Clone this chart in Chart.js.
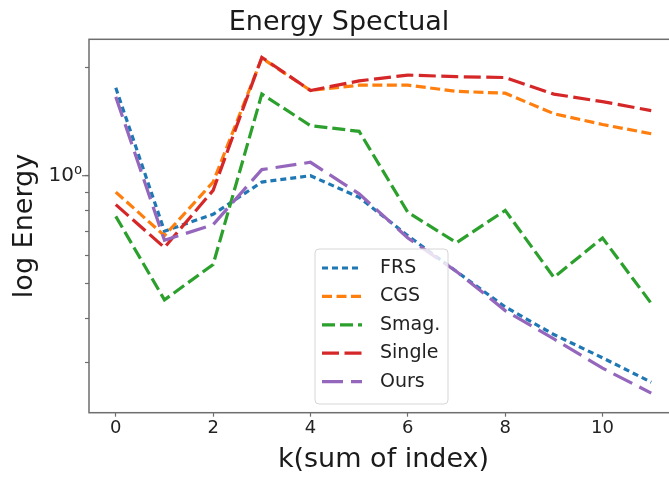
<!DOCTYPE html>
<html>
<head>
<meta charset="utf-8">
<script src="https://cdn.jsdelivr.net/npm/chart.js@4"></script>
<style>
  html, body { margin: 0; padding: 0; background: #fff; overflow: hidden; }
  #wrap { width: 669px; height: 477px; overflow: hidden; }
</style>
</head>
<body>
<div id="wrap"><canvas id="grafico" width="700" height="477"></canvas></div>
<script>
// valores (escala log)
const ks = [0, 1, 2, 3, 4, 5, 6, 7, 8, 9, 10, 11];
const frs    = [1.76, 0.70, 0.78, 0.96, 1.00, 0.87, 0.68, 0.54, 0.43, 0.36, 0.31, 0.265];
const cgs    = [0.90, 0.68, 0.96, 2.13, 1.73, 1.79, 1.79, 1.72, 1.70, 1.49, 1.39, 1.31];
const smag   = [0.77, 0.45, 0.565, 1.69, 1.38, 1.33, 0.79, 0.65, 0.80, 0.52, 0.67, 0.44];
const single = [0.83, 0.63, 0.91, 2.14, 1.73, 1.84, 1.91, 1.89, 1.88, 1.69, 1.61, 1.52];
const ours   = [1.66, 0.66, 0.73, 1.04, 1.09, 0.89, 0.67, 0.54, 0.42, 0.35, 0.29, 0.247];

const nomes = ['FRS', 'CGS', 'Smag.', 'Single', 'Ours'];
const xTicks = [0, 2, 4, 6, 8, 10];
const yTicks = [0.3, 0.4, 0.5, 0.6, 0.7, 0.8, 0.9, 1, 2];

const FONTE = "'DejaVu Sans', sans-serif";

const series = [
  { dados: frs,    cor: '#1f77b4', dash: [6, 4] },
  { dados: cgs,    cor: '#ff7f0e', dash: [10, 4.5] },
  { dados: smag,   cor: '#2ca02c', dash: [13, 5] },
  { dados: single, cor: '#d62728', dash: [17, 5.5] },
  { dados: ours,   cor: '#9467bd', dash: [21, 8] },
];

const datasets = series.map((s, i) => ({
  label: nomes[i],
  data: ks.map((k, j) => ({ x: k, y: s.dados[j] })),
  borderColor: s.cor,
  backgroundColor: s.cor,
  borderDash: s.dash,
  borderWidth: 3.2,
  pointRadius: 0,
  tension: 0,
  fill: false,
  order: series.length - i   // o último fica por cima, como no matplotlib
}));

// moldura do gráfico + tick maior em 10^0
const moldura = {
  id: 'moldura',
  afterDraw(chart) {
    const { ctx, chartArea: a } = chart;
    ctx.save();
    ctx.strokeStyle = '#6e6e6e';
    ctx.lineWidth = 1.5;
    ctx.strokeRect(a.left, a.top, a.right - a.left, a.bottom - a.top);
    const yMaior = chart.scales.y.getPixelForValue(1);
    ctx.lineWidth = 1.2;
    ctx.beginPath();
    ctx.moveTo(a.left - 7, yMaior);
    ctx.lineTo(a.left, yMaior);
    ctx.stroke();
    ctx.restore();
  }
};

// legenda dentro da área, estilo matplotlib
const legenda = {
  id: 'legenda',
  afterDatasetsDraw(chart) {
    const ctx = chart.ctx;
    const x0 = 315, y0 = 249, w = 133, h = 155;
    ctx.save();
    ctx.beginPath();
    ctx.roundRect(x0, y0, w, h, 4);
    ctx.fillStyle = 'rgba(255,255,255,0.8)';
    ctx.fill();
    ctx.strokeStyle = '#d6d6d6';
    ctx.lineWidth = 1;
    ctx.stroke();
    ctx.font = '19px ' + FONTE;
    ctx.textBaseline = 'middle';
    ctx.textAlign = 'left';
    chart.data.datasets.forEach((ds, i) => {
      const y = 268 + i * 28.4;
      ctx.beginPath();
      ctx.setLineDash(ds.borderDash);
      ctx.strokeStyle = ds.borderColor;
      ctx.lineWidth = ds.borderWidth;
      ctx.moveTo(322, y);
      ctx.lineTo(362, y);
      ctx.stroke();
      ctx.setLineDash([]);
      ctx.fillStyle = '#222';
      ctx.fillText(ds.label, 380, y);
    });
    ctx.restore();
  }
};

new Chart(document.getElementById('grafico'), {
  type: 'line',
  data: { datasets },
  options: {
    responsive: false,
    animation: false,
    layout: { padding: { left: 0, right: 22, top: 0, bottom: 0 } },
    plugins: {
      legend: { display: false },
      tooltip: { enabled: false },
      title: {
        display: true,
        text: 'Energy Spectual',
        color: '#1a1a1a',
        font: { family: FONTE, size: 27, weight: 'normal' },
        padding: { top: 6.5, bottom: 0.4 }
      }
    },
    scales: {
      x: {
        type: 'linear',
        min: -0.55,
        max: 11.55,
        afterBuildTicks: s => { s.ticks = xTicks.map(v => ({ value: v })); },
        afterFit: s => { s.height = 64.3; },
        grid: { drawOnChartArea: false, drawTicks: true, tickLength: 4, color: '#6e6e6e', tickWidth: 1.2 },
        border: { display: false },
        ticks: { color: '#222', padding: 1, font: { family: FONTE, size: 18 }, maxRotation: 0 },
        title: {
          display: true,
          text: 'k(sum of index)',
          color: '#1a1a1a',
          font: { family: FONTE, size: 27 },
          padding: { top: 0, bottom: 0.5 }
        }
      },
      y: {
        type: 'logarithmic',
        min: 0.2178,
        max: 2.404,
        afterBuildTicks: s => { s.ticks = yTicks.map(v => ({ value: v, major: v === 1 })); },
        afterFit: s => { s.width = 89; },
        grid: { drawOnChartArea: false, drawTicks: true, tickLength: 4, color: '#6e6e6e', tickWidth: 1.2 },
        border: { display: false },
        ticks: {
          color: '#222',
          padding: 3,
          font: { family: FONTE, size: 20 },
          autoSkip: false,
          callback: v => (v === 1 ? '10\u2070' : '')
        },
        title: {
          display: true,
          text: 'log Energy',
          color: '#1a1a1a',
          font: { family: FONTE, size: 27 },
          padding: { top: 9, bottom: 0 }
        }
      }
    }
  },
  plugins: [moldura, legenda]
});
</script>
</body>
</html>
